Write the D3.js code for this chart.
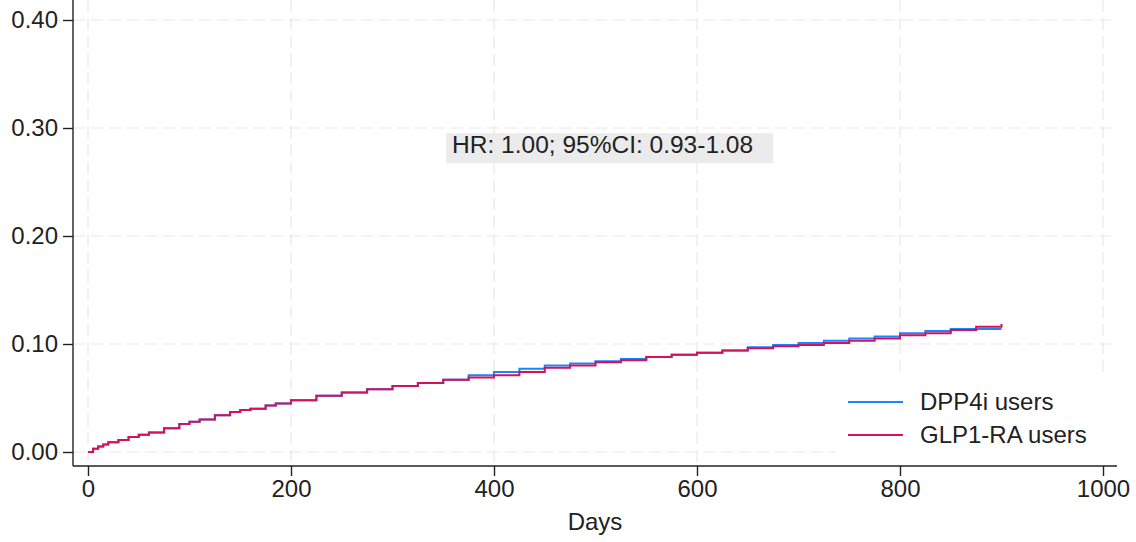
<!DOCTYPE html>
<html>
<head>
<meta charset="utf-8">
<script src="https://cdn.jsdelivr.net/npm/d3@7"></script>
<style>
  body { margin: 0; background: #fff; }
  svg text { font-family: "Liberation Sans", Arial, sans-serif; fill: #222; }
</style>
</head>
<body>
<div id="chart"></div>
<script>
// days at which the curves were read
var days = [0, 5, 10, 15, 20, 30, 40, 50, 60, 75, 90, 100, 110, 125, 140, 150, 160, 175, 185,
    200, 225, 250, 275, 300, 325, 350, 375, 400, 425, 450, 475, 500, 525, 550, 575, 600,
    625, 650, 675, 700, 725, 750, 775, 800, 825, 850, 875, 900];

var dpp4i = [0.000, 0.003, 0.005, 0.007, 0.009, 0.011, 0.014, 0.016, 0.018, 0.022, 0.026,
    0.028, 0.030, 0.034, 0.037, 0.039, 0.040, 0.043, 0.045,
    0.048, 0.052, 0.055, 0.058, 0.061, 0.064, 0.067, 0.071, 0.074, 0.077, 0.080, 0.082,
    0.084, 0.086, 0.088, 0.090, 0.092, 0.094, 0.097, 0.099, 0.101, 0.103, 0.105, 0.107,
    0.110, 0.112, 0.114, 0.114, 0.114];

var glp1 = [0.000, 0.003, 0.005, 0.007, 0.009, 0.011, 0.014, 0.016, 0.018, 0.022, 0.026,
    0.028, 0.030, 0.034, 0.037, 0.039, 0.040, 0.043, 0.045,
    0.048, 0.052, 0.055, 0.058, 0.061, 0.064, 0.067, 0.069, 0.071, 0.074, 0.078, 0.080,
    0.083, 0.085, 0.088, 0.090, 0.092, 0.094, 0.096, 0.098, 0.099, 0.101, 0.103, 0.105,
    0.108, 0.110, 0.113, 0.116, 0.1185];

var seriesNames = ["DPP4i users", "GLP1-RA users"];
var seriesColors = ["#1a85ff", "#d41159"];
var xTicks = [0, 200, 400, 600, 800, 1000];
var yTicks = [0, 0.1, 0.2, 0.3, 0.4];
var hrLabel = "HR: 1.00; 95%CI: 0.93-1.08";

var W = 1136, H = 542;
var x = d3.scaleLinear().domain([0, 1000]).range([88, 1103]);
var y = d3.scaleLinear().domain([0, 0.4]).range([452, 20]);
var axisLeftX = 73, axisBottomY = 466, plotRight = 1117;

var svg = d3.select("#chart").append("svg")
    .attr("width", W)
    .attr("height", H);

/*  grid  */
svg.append("g").selectAll("line")
    .data(yTicks)
    .enter().append("line")
    .attr("x1", axisLeftX).attr("x2", plotRight)
    .attr("y1", function (d) { return y(d); })
    .attr("y2", function (d) { return y(d); })
    .attr("stroke", "#e8e8e8")
    .attr("stroke-width", 1.2)
    .attr("stroke-dasharray", "12,6");

svg.append("g").selectAll("line")
    .data(xTicks)
    .enter().append("line")
    .attr("x1", function (d) { return x(d); })
    .attr("x2", function (d) { return x(d); })
    .attr("y1", 0).attr("y2", axisBottomY)
    .attr("stroke", "#e8e8e8")
    .attr("stroke-width", 1.2)
    .attr("stroke-dasharray", "12,6");

/*  HR text box  */
var hr = svg.append("g");
var hrText = hr.append("text")
    .attr("x", x(507))
    .attr("y", y(0.285) + 9)
    .attr("text-anchor", "middle")
    .style("font-size", "24.5px")
    .text(hrLabel);
var bb = hrText.node().getBBox();
hr.insert("rect", "text")
    .attr("x", bb.x - 6).attr("y", bb.y + 2)
    .attr("width", bb.width + 26).attr("height", bb.height + 3)
    .attr("fill", "#ebebeb");

/*  curves  */
var line = d3.line()
    .x(function (d) { return x(d[0]); })
    .y(function (d) { return y(d[1]); })
    .curve(d3.curveStepAfter);

[dpp4i, glp1].forEach(function (vals, i) {
    svg.append("path")
        .datum(days.map(function (d, j) { return [d, vals[j]]; }))
        .attr("d", line)
        .attr("fill", "none")
        .attr("stroke", seriesColors[i])
        .attr("stroke-width", 2);
});

/*  legend  */
var legend = svg.append("g");
legend.append("rect")
    .attr("x", 836).attr("y", 378)
    .attr("width", 276).attr("height", 86)
    .attr("fill", "#fff");
seriesNames.forEach(function (name, i) {
    var ly = 402 + i * 33;
    legend.append("line")
        .attr("x1", 848).attr("x2", 903)
        .attr("y1", ly).attr("y2", ly)
        .attr("stroke", seriesColors[i])
        .attr("stroke-width", 2);
    legend.append("text")
        .attr("x", 920).attr("y", ly + 8)
        .style("font-size", "24px")
        .text(name);
});

/*  axes  */
var xAxis = svg.append("g")
    .attr("transform", "translate(0," + axisBottomY + ")")
    .call(d3.axisBottom(x).tickValues(xTicks).tickSize(10).tickPadding(4).tickFormat(d3.format("d")));
xAxis.select(".domain").attr("d", "M" + axisLeftX + ",0H" + plotRight);

var yAxis = svg.append("g")
    .attr("transform", "translate(" + axisLeftX + ",0)")
    .call(d3.axisLeft(y).tickValues(yTicks).tickSize(10).tickPadding(5).tickFormat(d3.format(".2f")));
yAxis.select(".domain").attr("d", "M0,0V" + axisBottomY);

svg.selectAll(".domain, .tick line").attr("stroke", "#222").attr("stroke-width", 1.4);
svg.selectAll(".tick text").style("font-size", "24px").attr("fill", "#222");

svg.append("text")
    .attr("x", 595).attr("y", 530)
    .attr("text-anchor", "middle")
    .style("font-size", "24px")
    .text("Days");
</script>
</body>
</html>
